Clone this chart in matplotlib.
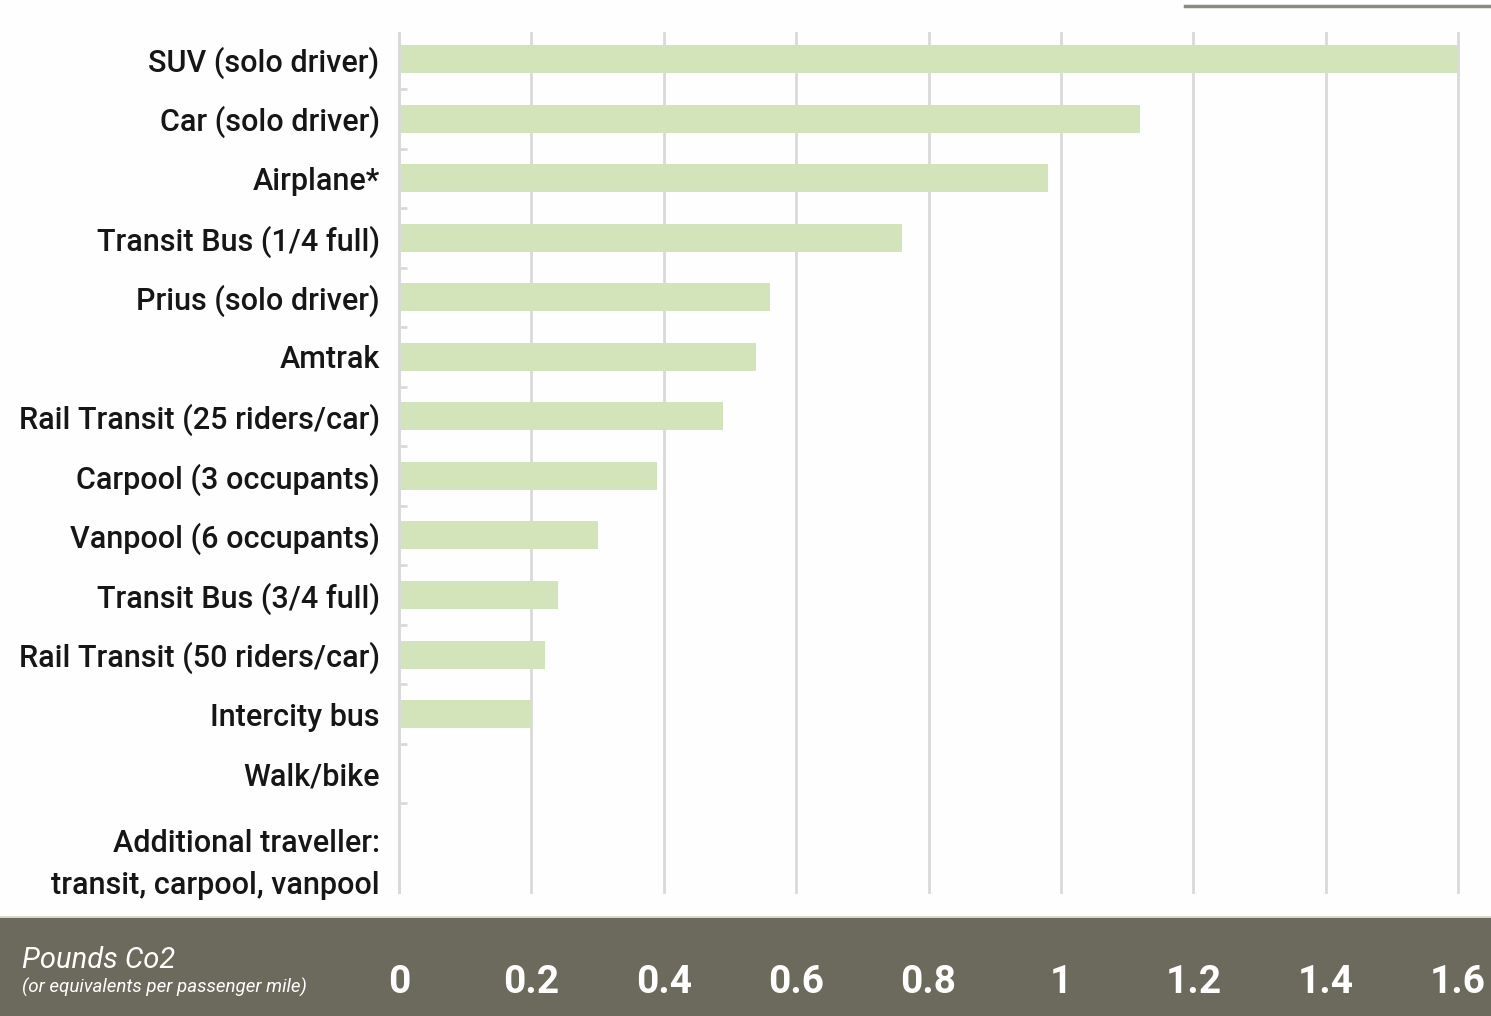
import matplotlib
matplotlib.use("Agg")
import matplotlib.pyplot as plt
from matplotlib.patches import Rectangle
from matplotlib.lines import Line2D
from matplotlib.transforms import ScaledTranslation

plt.rcParams['font.family'] = ['Roboto', 'DejaVu Sans']

modes = [
    "SUV (solo driver)",
    "Car (solo driver)",
    "Airplane*",
    "Transit Bus (1/4 full)",
    "Prius (solo driver)",
    "Amtrak",
    "Rail Transit (25 riders/car)",
    "Carpool (3 occupants)",
    "Vanpool (6 occupants)",
    "Transit Bus (3/4 full)",
    "Rail Transit (50 riders/car)",
    "Intercity bus",
    "Walk/bike",
    "Additional traveller:\ntransit, carpool, vanpool",
]
pounds_co2 = [1.60, 1.12, 0.98, 0.76, 0.56, 0.54, 0.49, 0.39, 0.30, 0.24, 0.22, 0.20, 0.0, 0.0]
x_ticks = [0, 0.2, 0.4, 0.6, 0.8, 1.0, 1.2, 1.4, 1.6]
x_tick_labels = ["0", "0.2", "0.4", "0.6", "0.8", "1", "1.2", "1.4", "1.6"]

bar_color = "#d3e4bb"
band_color = "#6c6a5c"
grid_color = "#d9d9d9"

fig = plt.figure(figsize=(14.91, 10.16), dpi=100)
fig.patch.set_facecolor("#fefefe")

# dark band at the bottom holding the x labels
fig.patches.append(Rectangle((0, 0), 1, 0.0965, transform=fig.transFigure,
                             facecolor=band_color, edgecolor="none", zorder=-1))
fig.lines.append(Line2D([0, 1], [0.0975, 0.0975], transform=fig.transFigure,
                        color="#d8d6cc", lw=2, zorder=-1))
# grey rule at the top right
fig.lines.append(Line2D([0.795, 1], [0.994, 0.994], transform=fig.transFigure,
                        color="#8a8a80", lw=2.5))

ax = fig.add_axes([0.2676, 0.122, 0.7104, 0.8455])
ax.set_facecolor("none")

y = list(range(len(modes)))
ax.barh(y, pounds_co2, height=0.47, color=bar_color, zorder=2)

ax.set_xlim(0, 1.6)
ax.set_ylim(13.99, -0.44)
ax.set_xticks(x_ticks)
ax.set_xticklabels(x_tick_labels, color="white", fontsize=28, fontweight="bold")
ax.tick_params(axis="x", length=0, pad=52)
ax.grid(axis="x", color=grid_color, lw=2, zorder=1)
for gl in ax.get_xgridlines():
    gl.set_clip_on(False)

ax.set_yticks(y)
ax.set_yticklabels(modes, fontsize=22, color="#161616", fontweight="medium")
ax.tick_params(axis="y", length=0, pad=14)
ax.set_yticks([i + 0.5 for i in range(len(modes) - 1)], minor=True)
ax.tick_params(axis="y", which="minor", direction="in", length=6, width=2, color=grid_color)
for lbl in ax.get_yticklabels():
    if "\n" in lbl.get_text():
        lbl.set_linespacing(1.55)
        lbl.set_transform(lbl.get_transform() + ScaledTranslation(0, -0.22, fig.dpi_scale_trans))

for side in ["top", "right", "bottom"]:
    ax.spines[side].set_visible(False)
ax.spines["left"].set_color(grid_color)
ax.spines["left"].set_linewidth(2)

fig.text(0.015, 0.047, "Pounds Co2", color="white", fontsize=21, style="italic", va="baseline")
fig.text(0.015, 0.023, "(or equivalents per passenger mile)", color="white",
         fontsize=13.5, style="italic", va="baseline")

fig.savefig("out.png", dpi=100, facecolor=fig.get_facecolor())
